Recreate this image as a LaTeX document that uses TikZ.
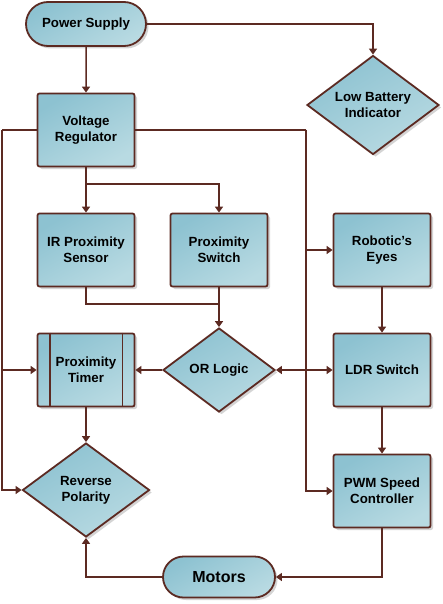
\documentclass[tikz,border=0pt]{standalone}
\usepackage{fontspec}
\setmainfont{Liberation Sans}
\usetikzlibrary{arrows.meta,positioning,shapes.geometric,shapes.misc,shadows}
\definecolor{ink}{HTML}{5C2A22}
\definecolor{tealA}{HTML}{8DC2D1}
\definecolor{tealB}{HTML}{B8DAE2}
\definecolor{shade}{HTML}{C9C9C9}
\tikzset{
  base/.style={draw=ink,line width=1.8pt,top color=tealA,bottom color=tealB,shading angle=30,
    drop shadow={shadow xshift=2.5pt,shadow yshift=-2.5pt,fill=shade,opacity=.8},
    align=center,font=\bfseries\fontsize{13.3}{16}\selectfont,text=black,inner sep=0pt},
  block/.style={base,rectangle,rounded corners=2pt,minimum width=97pt,minimum height=73pt},
  decision/.style={base,diamond,aspect=1.33},
  term/.style={base,rounded rectangle},
  line/.style={draw=ink,line width=1.5pt},
  edge/.style={line,-{Triangle[width=8pt,length=6pt]}},
}
\begin{document}
\begin{tikzpicture}[x=1pt,y=-1pt]
  \useasboundingbox (0,0) rectangle (443,604);
  % nodes
  \node[term,minimum width=120pt,minimum height=44pt] (power) at (86,24) {Power Supply};
  \node[decision,minimum width=132pt,minimum height=99pt] (lowbat) at (373,105) {Low Battery\\Indicator};
  \node[block] (vreg) at (86,130) {Voltage\\Regulator};
  \node[block] (irsens) at (86,250) {IR Proximity\\Sensor};
  \node[block] (pswitch) at (219,250) {Proximity\\Switch};
  \node[block] (eyes) at (382,250) {Robotic’s\\Eyes};
  \node[decision,minimum width=112pt,minimum height=84pt] (orlogic) at (219,370) {OR Logic};
  \node[block] (ptimer) at (86,370) {Proximity\\Timer};
  \node[block] (ldr) at (382,370) {LDR Switch};
  \node[decision,minimum width=127pt,minimum height=94pt] (revpol) at (86,490) {Reverse\\Polarity};
  \node[block] (pwm) at (382,491) {PWM Speed\\Controller};
  \node[term,minimum width=112pt,minimum height=41pt,font=\bfseries\fontsize{16}{19}\selectfont] (motors) at (219,577) {Motors};
  \draw[line,line width=1.8pt] ([xshift=13pt]ptimer.north west) -- ([xshift=13pt]ptimer.south west);
  \draw[line,line width=1.8pt] ([xshift=-13pt]ptimer.north east) -- ([xshift=-13pt]ptimer.south east);
  % junctions
  \coordinate (lbus) at (2,130);
  \coordinate (rbus) at (306,130);
  \coordinate (split) at (86,184);
  \coordinate (merge) at (219,304);
  \coordinate (ormid) at (306,370);
  % connectors
  \draw[edge] (power) -| (lowbat);
  \draw[edge] (power) -- (vreg);
  \draw[line] (vreg) -- (split);
  \draw[edge] (split) -- (irsens);
  \draw[edge] (split) -| (pswitch);
  \draw[line] (irsens) |- (merge);
  \draw[edge] (pswitch) -- (orlogic);
  \draw[edge] (orlogic) -- (ptimer);
  \draw[line] (vreg) -- (lbus);
  \draw[edge] (lbus) |- (ptimer);
  \draw[edge] (lbus) |- (revpol);
  \draw[line] (vreg) -- (rbus);
  \draw[edge] (rbus) |- (eyes);
  \draw[edge] (rbus) |- (ldr);
  \draw[edge] (rbus) |- (pwm);
  \draw[edge] (ormid) -- (orlogic);
  \draw[edge] (eyes) -- (ldr);
  \draw[edge] (ldr) -- (pwm);
  \draw[edge] (ptimer) -- (revpol);
  \draw[edge] (pwm) |- (motors);
  \draw[edge] (motors) -| (revpol);
\end{tikzpicture}
\end{document}
